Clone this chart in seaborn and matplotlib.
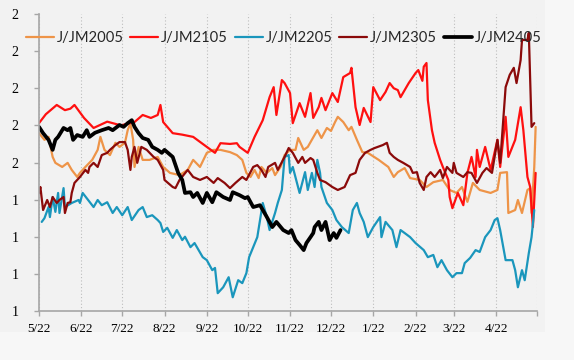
import pandas as pd
import matplotlib
matplotlib.use("Agg")
import matplotlib.pyplot as plt
from matplotlib.patches import Rectangle
import seaborn as sns

# day offsets count from 5/22
start = pd.Timestamp("2021-05-22")

series_names = ["J/JM2005", "J/JM2105", "J/JM2205", "J/JM2305", "J/JM2405"]
series_colors = ["#EE9448", "#FF1010", "#1A96BC", "#8B0A0A", "#000000"]

jm2005_days = [0, 4, 7, 10, 12, 17, 21, 24, 28, 30, 34, 39, 43, 45, 48, 52, 56, 59, 63, 65,
               67, 69, 70, 73, 76, 81, 87, 91, 96, 103, 109, 113, 118, 123, 128, 133, 140, 145,
               149, 152, 155, 158, 161, 163, 167, 171, 173, 177, 180, 184, 188, 190, 194, 197,
               204, 207, 211, 214, 217, 219, 223, 227, 229, 233, 237, 241, 249, 256, 260, 263,
               268, 272, 279, 284, 289, 296, 301, 306, 310, 314, 318, 323, 331, 336, 338, 343,
               344, 349, 351, 354, 358, 360, 361, 363, 364]
jm2005_vals = [1.579, 1.561, 1.569, 1.515, 1.499, 1.488, 1.499, 1.480, 1.461, 1.472, 1.488,
               1.507, 1.534, 1.569, 1.534, 1.520, 1.553, 1.542, 1.553, 1.587, 1.606, 1.561,
               1.488, 1.542, 1.507, 1.507, 1.515, 1.488, 1.472, 1.466, 1.480, 1.507, 1.488,
               1.526, 1.534, 1.534, 1.528, 1.520, 1.507, 1.472, 1.461, 1.480, 1.458, 1.488,
               1.472, 1.485, 1.466, 1.488, 1.520, 1.534, 1.534, 1.566, 1.534, 1.542, 1.587,
               1.566, 1.593, 1.585, 1.609, 1.623, 1.609, 1.587, 1.596, 1.561, 1.528, 1.526,
               1.507, 1.488, 1.461, 1.474, 1.485, 1.458, 1.453, 1.434, 1.447, 1.453, 1.426,
               1.418, 1.434, 1.394, 1.445, 1.426, 1.418, 1.426, 1.472, 1.474, 1.364, 1.372,
               1.399, 1.364, 1.426, 1.431, 1.364, 1.488, 1.596]

jm2105_days = [0, 5, 13, 19, 23, 26, 33, 40, 50, 60, 70, 76, 82, 87, 89, 91, 98, 105, 113,
               123, 129, 133, 140, 145, 147, 153, 158, 164, 169, 172, 174, 178, 180, 184, 186,
               191, 195, 199, 201, 205, 207, 210, 215, 219, 223, 228, 229, 232, 235, 238, 243,
               245, 250, 254, 257, 260, 263, 265, 271, 276, 278, 281, 282, 284, 285, 288, 290,
               294, 296, 300, 301, 303, 307, 311, 314, 317, 320, 321, 323, 327, 331, 336, 338,
               342, 344, 349, 353, 355, 358, 360, 362, 364]
jm2105_vals = [1.606, 1.630, 1.655, 1.641, 1.645, 1.655, 1.620, 1.593, 1.610, 1.600, 1.609,
               1.628, 1.620, 1.628, 1.655, 1.609, 1.579, 1.575, 1.569, 1.542, 1.526, 1.552,
               1.550, 1.552, 1.542, 1.526, 1.569, 1.614, 1.676, 1.703, 1.628, 1.722, 1.714,
               1.687, 1.606, 1.660, 1.623, 1.687, 1.620, 1.649, 1.674, 1.641, 1.687, 1.663,
               1.730, 1.741, 1.755, 1.649, 1.601, 1.647, 1.609, 1.703, 1.668, 1.690, 1.714,
               1.700, 1.695, 1.676, 1.714, 1.741, 1.749, 1.720, 1.758, 1.768, 1.668, 1.587,
               1.553, 1.507, 1.488, 1.453, 1.407, 1.377, 1.418, 1.385, 1.472, 1.515, 1.461,
               1.534, 1.488, 1.542, 1.480, 1.561, 1.488, 1.623, 1.515, 1.561, 1.649, 1.587,
               1.461, 1.434, 1.326, 1.472]

jm2205_days = [2, 4, 7, 8, 10, 12, 14, 15, 18, 19, 24, 29, 30, 32, 36, 40, 43, 46, 50, 54,
               57, 61, 65, 68, 73, 76, 79, 83, 87, 89, 91, 94, 98, 101, 105, 107, 111, 114,
               120, 123, 127, 129, 131, 135, 139, 142, 146, 149, 152, 154, 157, 160, 162, 164,
               167, 169, 173, 175, 178, 180, 183, 184, 186, 191, 195, 197, 200, 202, 204, 206,
               207, 211, 215, 218, 222, 227, 230, 233, 235, 238, 241, 245, 250, 251, 254, 259,
               262, 265, 268, 272, 276, 282, 285, 289, 292, 295, 299, 303, 306, 310, 312, 316,
               320, 323, 327, 331, 334, 336, 338, 342, 347, 349, 351, 354, 356, 359, 361, 363]
jm2205_vals = [1.340, 1.350, 1.380, 1.353, 1.407, 1.367, 1.418, 1.364, 1.431, 1.380, 1.391,
               1.399, 1.391, 1.418, 1.399, 1.380, 1.399, 1.385, 1.393, 1.364, 1.380, 1.358,
               1.380, 1.345, 1.372, 1.380, 1.353, 1.358, 1.345, 1.337, 1.313, 1.324, 1.297,
               1.318, 1.291, 1.300, 1.272, 1.283, 1.245, 1.237, 1.210, 1.216, 1.148, 1.164,
               1.191, 1.137, 1.183, 1.175, 1.202, 1.245, 1.272, 1.299, 1.345, 1.391, 1.353,
               1.318, 1.364, 1.391, 1.426, 1.515, 1.520, 1.472, 1.488, 1.418, 1.474, 1.426,
               1.472, 1.434, 1.507, 1.472, 1.434, 1.391, 1.372, 1.345, 1.326, 1.310, 1.372,
               1.391, 1.364, 1.340, 1.299, 1.326, 1.353, 1.299, 1.340, 1.318, 1.272, 1.318,
               1.310, 1.299, 1.283, 1.264, 1.245, 1.251, 1.218, 1.237, 1.210, 1.191, 1.202,
               1.202, 1.229, 1.243, 1.264, 1.259, 1.299, 1.318, 1.345, 1.350, 1.318, 1.237,
               1.237, 1.210, 1.164, 1.210, 1.183, 1.256, 1.299, 1.372]

jm2305_days = [0, 1, 3, 6, 8, 10, 13, 15, 18, 19, 21, 23, 24, 26, 30, 34, 36, 37, 40, 43, 46,
               50, 52, 56, 59, 63, 65, 67, 68, 70, 72, 75, 79, 84, 87, 91, 92, 98, 100, 103,
               109, 113, 118, 123, 128, 131, 136, 140, 144, 149, 152, 157, 160, 163, 166, 168,
               173, 175, 180, 183, 186, 190, 193, 195, 199, 201, 204, 206, 210, 215, 219, 224,
               228, 232, 235, 239, 243, 246, 252, 255, 257, 260, 263, 267, 272, 274, 277, 279,
               282, 284, 287, 290, 294, 296, 299, 303, 304, 306, 311, 314, 317, 321, 325, 328,
               332, 336, 338, 342, 345, 348, 350, 353, 354, 358, 359, 361, 363]
jm2305_vals = [1.418, 1.434, 1.372, 1.399, 1.380, 1.407, 1.391, 1.399, 1.407, 1.364, 1.391,
               1.393, 1.418, 1.445, 1.461, 1.480, 1.472, 1.488, 1.499, 1.488, 1.520, 1.526,
               1.534, 1.547, 1.555, 1.555, 1.534, 1.480, 1.515, 1.542, 1.499, 1.542, 1.534,
               1.515, 1.507, 1.480, 1.453, 1.434, 1.431, 1.453, 1.480, 1.461, 1.453, 1.461,
               1.445, 1.458, 1.445, 1.431, 1.445, 1.461, 1.453, 1.488, 1.493, 1.480, 1.461,
               1.488, 1.499, 1.480, 1.515, 1.539, 1.526, 1.499, 1.515, 1.499, 1.512, 1.507,
               1.472, 1.453, 1.447, 1.434, 1.426, 1.434, 1.466, 1.472, 1.507, 1.526, 1.534,
               1.539, 1.547, 1.553, 1.526, 1.515, 1.507, 1.499, 1.488, 1.472, 1.474, 1.445,
               1.426, 1.461, 1.474, 1.461, 1.480, 1.458, 1.488, 1.472, 1.499, 1.472, 1.461,
               1.474, 1.472, 1.445, 1.472, 1.485, 1.472, 1.561, 1.499, 1.703, 1.736, 1.755,
               1.714, 1.776, 1.830, 1.830, 1.849, 1.596, 1.606]

jm2405_days = [0, 3, 7, 10, 12, 14, 18, 21, 23, 25, 28, 32, 35, 37, 41, 46, 51, 54, 59, 62,
               65, 68, 70, 73, 76, 80, 83, 87, 90, 92, 98, 102, 105, 107, 111, 113, 116, 120,
               123, 127, 130, 135, 140, 142, 147, 151, 153, 157, 162, 167, 171, 174, 179, 183,
               185, 188, 191, 194, 196, 199, 201, 202, 205, 207, 210, 213, 216, 218, 221]
jm2405_vals = [1.596, 1.579, 1.561, 1.534, 1.561, 1.569, 1.593, 1.587, 1.593, 1.561, 1.574,
               1.569, 1.587, 1.569, 1.580, 1.587, 1.593, 1.587, 1.601, 1.596, 1.606, 1.614,
               1.596, 1.579, 1.566, 1.561, 1.542, 1.534, 1.526, 1.534, 1.515, 1.472, 1.453,
               1.418, 1.420, 1.407, 1.418, 1.391, 1.418, 1.393, 1.420, 1.407, 1.399, 1.420,
               1.412, 1.404, 1.407, 1.380, 1.385, 1.353, 1.326, 1.340, 1.318, 1.310, 1.318,
               1.291, 1.278, 1.264, 1.283, 1.299, 1.310, 1.326, 1.340, 1.318, 1.340, 1.291,
               1.310, 1.297, 1.318]

y_ticks = [1.1, 1.2, 1.3, 1.4, 1.5, 1.6, 1.7, 1.8, 1.9]
y_tick_labels = ["1", "1", "1", "1", "2", "2", "2", "2", "2"]

all_days = [jm2005_days, jm2105_days, jm2205_days, jm2305_days, jm2405_days]
all_vals = [jm2005_vals, jm2105_vals, jm2205_vals, jm2305_vals, jm2405_vals]
line_widths = [1.6, 1.6, 1.6, 1.6, 2.7]

sns.set_theme(style="white")
plt.rcParams["font.family"] = ["Liberation Serif", "DejaVu Serif"]

W, H = 574, 360
fig = plt.figure(figsize=(W / 100, H / 100), dpi=100, facecolor="#f7f7f7")
# the chart panel is a shade darker than the page around it
fig.patches.append(Rectangle((0, 1 - 332 / H), 545 / W, 332 / H, transform=fig.transFigure,
                             facecolor="#f2f2f2", edgecolor="none", zorder=-5))

ax = fig.add_axes([39 / W, 1 - 311 / H, (537 - 39) / W, (311 - 14) / H])
ax.set_facecolor("none")

for name, days, vals, color, lw in zip(series_names, all_days, all_vals, series_colors, line_widths):
    dates = start + pd.to_timedelta(days, unit="D")
    sns.lineplot(x=dates, y=vals, color=color, linewidth=lw, label=name, ax=ax)

month_ticks = [start + pd.DateOffset(months=i) for i in range(13)]
month_labels = [f"{d.month}/{d.day}" for d in month_ticks[:-1]] + [""]
ax.set_xlim(month_ticks[0], month_ticks[-1])
ax.set_xticks(month_ticks)
ax.set_xticklabels(month_labels, fontsize=9.5)
ax.set_ylim(1.1, 1.9)
ax.set_yticks(y_ticks)
ax.set_yticklabels(y_tick_labels, fontsize=10)
ax.set_xlabel("")
ax.set_ylabel("")

ax.grid(axis="x", color="#bdbdbd", linestyle=(0, (1, 2)), linewidth=0.8)
ax.grid(axis="y", visible=False)
for side in ["top", "right"]:
    ax.spines[side].set_visible(False)
for side in ["left", "bottom"]:
    ax.spines[side].set_color("#a6a6a6")
    ax.spines[side].set_linewidth(1.2)
ax.tick_params(axis="both", colors="#a6a6a6", labelcolor="#000000", length=3.5, width=1.0,
               direction="out", left=True, bottom=True)
ax.tick_params(axis="y", pad=11)
ax.tick_params(axis="x", pad=5)

ax.legend(loc="center", bbox_to_anchor=(0.494, 1 - 38 / H), bbox_transform=fig.transFigure,
          ncol=5, frameon=False, prop={"family": "Lato", "size": 10.6},
          handlelength=1.9, handletextpad=0.2, columnspacing=0.45, borderpad=0)

fig.savefig("out.png", dpi=100, facecolor=fig.get_facecolor())
